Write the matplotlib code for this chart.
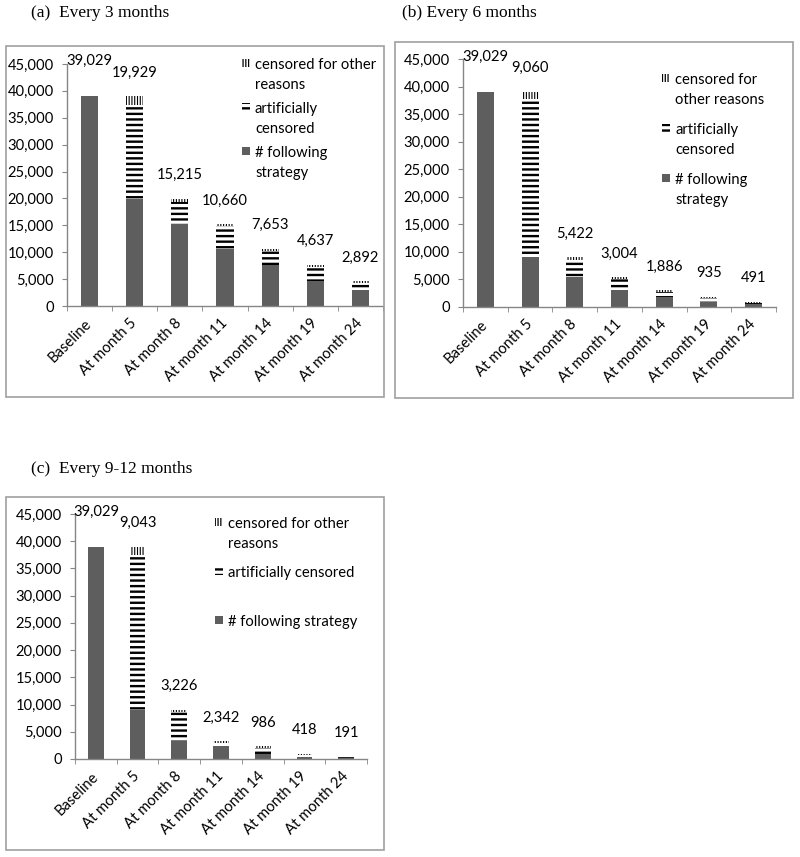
import matplotlib
matplotlib.use("Agg")
import matplotlib.pyplot as plt
from matplotlib.patches import Rectangle
from matplotlib.ticker import FuncFormatter
import numpy as np

categories = ["Baseline", "At month 5", "At month 8", "At month 11",
              "At month 14", "At month 19", "At month 24"]

# (a) Every 3 months
a_following = [39029, 19929, 15215, 10660, 7653, 4637, 2892]
a_artificial = [0, 17400, 4200, 4155, 2657, 2616, 1345]
a_other = [0, 1700, 514, 400, 350, 400, 400]

# (b) Every 6 months
b_following = [39029, 9060, 5422, 3004, 1886, 935, 491]
b_artificial = [0, 28669, 3038, 2018, 818, 701, 294]
b_other = [0, 1300, 600, 400, 300, 250, 150]

# (c) Every 9-12 months
c_following = [39029, 9043, 3226, 2342, 986, 418, 191]
c_artificial = [0, 28486, 5417, 584, 1056, 368, 127]
c_other = [0, 1500, 400, 300, 300, 200, 100]

titles = ["(a)  Every 3 months", "(b) Every 6 months", "(c)  Every 9-12 months"]
legend_a = ["censored for other\nreasons", "artificially\ncensored", "# following\nstrategy"]
legend_b = ["censored for\nother reasons", "artificially\ncensored", "# following\nstrategy"]
legend_c = ["censored for other\nreasons", "artificially censored", "# following strategy"]

plt.rcParams['font.family'] = ['Lato', 'DejaVu Sans']

W, H = 800, 857
BAR = '#5e5e5e'
SPINE = '#868686'
BOX = '#a0a0a0'
FS = 10.6

fig = plt.figure(figsize=(W / 100, H / 100), dpi=100)


def fx(px):
    return px / W


def fy(py):
    return 1 - py / H


def hatch_lw(patches, lw):
    for p in patches:
        if hasattr(p, 'set_hatch_linewidth'):
            p.set_hatch_linewidth(lw)


def panel(ax_px, box_px, title, title_px, following, artificial, other,
          labels, leg_hx, leg_tx, leg_rows):
    # outer frame
    x0, y0, x1, y1 = box_px
    fig.add_artist(Rectangle((fx(x0), fy(y1)), fx(x1 - x0), (y1 - y0) / H,
                             transform=fig.transFigure, fill=False,
                             edgecolor=BOX, lw=1.2))
    fig.text(fx(title_px[0]), fy(title_px[1]), title, family='Liberation Serif',
             fontsize=12.5, ha='left', va='center')

    l, t, r, b = ax_px
    ax = fig.add_axes([fx(l), fy(b), fx(r - l), (b - t) / H])
    x = np.arange(len(categories))
    f = np.array(following)
    a = np.array(artificial)
    o = np.array(other)
    w = 0.38
    ax.bar(x, f, width=w, color=BAR, lw=0)
    with plt.rc_context({'hatch.linewidth': 1.7}):
        bars_a = ax.bar(x, a, bottom=f, width=w, color='white',
                        edgecolor='black', hatch='---', lw=0)
        hatch_lw(bars_a, 1.7)
    with plt.rc_context({'hatch.linewidth': 0.8}):
        bars_o = ax.bar(x, o, bottom=f + a, width=w, color='white',
                        edgecolor='black', hatch='||||||', lw=0)
        hatch_lw(bars_o, 0.8)

    tops = f + a + o
    for xi, top, val in zip(x, tops, f):
        off = 25 if xi == 0 else 17
        ax.annotate(f"{val:,}", (xi, top), xytext=(0, off),
                    textcoords='offset points', ha='center', va='center',
                    fontsize=FS, annotation_clip=False)

    ax.set_xlim(-0.5, 6.5)
    ax.set_ylim(0, 45000)
    ax.set_yticks(np.arange(0, 45001, 5000))
    ax.yaxis.set_major_formatter(FuncFormatter(lambda v, p: f"{int(v):,}"))
    ax.set_xticks(x)
    ax.set_xticklabels(categories, rotation=45, ha='right',
                       rotation_mode='anchor', va='center')
    ax.set_xticks(np.arange(-0.5, 7, 1), minor=True)
    ax.tick_params(axis='x', which='major', length=0, pad=11, labelsize=FS)
    ax.tick_params(axis='x', which='minor', length=3.5, color=SPINE,
                   direction='out')
    ax.tick_params(axis='y', length=3.5, color=SPINE, pad=6, labelsize=FS)
    for s in ['top', 'right']:
        ax.spines[s].set_visible(False)
    for s in ['left', 'bottom']:
        ax.spines[s].set_color(SPINE)
        ax.spines[s].set_linewidth(1.0)

    # legend (manual, Excel-like: handle aligned with first text line)
    styles = [dict(facecolor='white', edgecolor='black', hatch='||||||', lw=0, hl=0.9),
              dict(facecolor='white', edgecolor='black', hatch='---', lw=0, hl=1.7),
              dict(facecolor=BAR, edgecolor=BAR, hatch=None, lw=0, hl=1.0)]
    for lab, row, st in zip(labels, leg_rows, styles):
        hl = st.pop('hl')
        with plt.rc_context({'hatch.linewidth': hl}):
            rect = Rectangle((fx(leg_hx), fy(row + 4)), fx(8), 8 / H,
                             transform=fig.transFigure, **st)
            if hasattr(rect, 'set_hatch_linewidth'):
                rect.set_hatch_linewidth(hl)
            fig.add_artist(rect)
        fig.text(fx(leg_tx), fy(row - 5), lab, fontsize=FS, ha='left',
                 va='top', linespacing=1.55)
    return ax


panel((67, 64, 383, 306), (6, 46, 384, 397), titles[0], (31, 13),
      a_following, a_artificial, a_other, legend_a, 242, 255, [63, 107, 151])
panel((463, 59, 776, 307), (395, 42, 793, 398), titles[1], (402, 13),
      b_following, b_artificial, b_other, legend_b, 662, 675, [78, 128, 178])
panel((75, 514, 367, 759), (6, 497, 384, 850), titles[2], (31, 469),
      c_following, c_artificial, c_other, legend_c, 215, 228, [522, 571, 620])

fig.savefig("out.png", dpi=100)
